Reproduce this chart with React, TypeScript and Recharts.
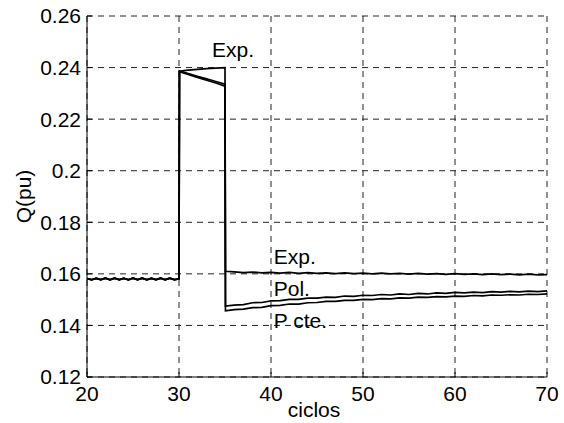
import { LineChart, Line, XAxis, YAxis, CartesianGrid, ReferenceDot } from "recharts";

// ciclos (x) shared by the three load models
const ciclos = [
  20, 20.5, 21, 21.5, 22, 22.5, 23, 23.5, 24, 24.5, 25, 25.5, 26, 26.5, 27, 27.5, 28, 28.5, 29, 29.5, 30,
  30.05, 31, 32, 33, 34, 35,
  35.05, 36, 37, 38, 39, 40, 41, 42, 43, 44, 45, 46, 47, 48, 49, 50, 51, 52, 53, 54, 55,
  56, 57, 58, 59, 60, 61, 62, 63, 64, 65, 66, 67, 68, 69, 70,
];

const qExp = [
  0.1582, 0.1577, 0.1583, 0.1578, 0.1584, 0.1577, 0.1582, 0.1578, 0.1583, 0.1577, 0.1584, 0.1578, 0.1582, 0.1577, 0.1583, 0.1578, 0.1584, 0.1577, 0.1582, 0.1578, 0.1581,
  0.2386, 0.239, 0.2393, 0.2396, 0.2398, 0.24,
  0.161, 0.1608, 0.1605, 0.1607, 0.1604, 0.1606, 0.1603, 0.1606, 0.1602, 0.1605, 0.1602, 0.1604, 0.1601, 0.1604, 0.1601, 0.1603, 0.16, 0.1603, 0.16, 0.1602, 0.1599,
  0.1602, 0.1599, 0.1601, 0.1598, 0.1601, 0.1598, 0.16, 0.1597, 0.16, 0.1597, 0.1599, 0.1596, 0.1599, 0.1596, 0.1597,
];

const qPol = [
  0.1581, 0.1578, 0.1582, 0.1577, 0.1583, 0.1578, 0.1583, 0.1577, 0.1582, 0.1578, 0.1583, 0.1577, 0.1583, 0.1578, 0.1582, 0.1577, 0.1583, 0.1578, 0.1583, 0.1577, 0.1581,
  0.2387, 0.2377, 0.2366, 0.2356, 0.2346, 0.2336,
  0.1475, 0.1479, 0.1481, 0.1488, 0.1489, 0.1495, 0.1496, 0.1501, 0.1501, 0.1506, 0.1506, 0.151, 0.1509, 0.1514, 0.1513, 0.1517, 0.1516, 0.152, 0.1518, 0.1522, 0.152,
  0.1524, 0.1522, 0.1526, 0.1524, 0.1528, 0.1526, 0.1529, 0.1527, 0.1531, 0.1529, 0.1532, 0.153, 0.1533, 0.1531, 0.1534,
];

const qPcte = [
  0.1583, 0.1577, 0.1582, 0.1578, 0.1582, 0.1577, 0.1584, 0.1578, 0.1582, 0.1577, 0.1582, 0.1578, 0.1584, 0.1577, 0.1582, 0.1578, 0.1582, 0.1577, 0.1584, 0.1578, 0.1581,
  0.2384, 0.2373, 0.2362, 0.2351, 0.234, 0.2328,
  0.1457, 0.1461, 0.1463, 0.1469, 0.147, 0.1477, 0.1478, 0.1483, 0.1483, 0.1488, 0.1489, 0.1493, 0.1493, 0.1497, 0.1497, 0.1501, 0.15, 0.1504, 0.1503, 0.1507, 0.1506,
  0.151, 0.1509, 0.1512, 0.1511, 0.1514, 0.1513, 0.1516, 0.1515, 0.1518, 0.1517, 0.1519, 0.1518, 0.1521, 0.152, 0.1522,
];

const xTicks = [20, 30, 40, 50, 60, 70];
const yTicks = [0.12, 0.14, 0.16, 0.18, 0.2, 0.22, 0.24, 0.26];

// annotations: [text, ciclo, Q]
const notes: [string, number, number][] = [
  ["Exp.", 33.6, 0.2468],
  ["Exp.", 40.3, 0.1666],
  ["Pol.", 40.3, 0.1543],
  ["P cte.", 40.3, 0.1419],
];

const data = ciclos.map((c, i) => ({ c, exp: qExp[i], pol: qPol[i], pcte: qPcte[i] }));

const FONT = "'Liberation Sans', Arial, sans-serif";

function NoteLabel({ viewBox, value }: any) {
  const x = viewBox.x + viewBox.width / 2;
  const y = viewBox.y + viewBox.height / 2;
  return (
    <text x={x} y={y} dy="0.35em" textAnchor="start" fontSize={21} fontFamily={FONT} fill="#000">
      {value}
    </text>
  );
}

export default function App() {
  return (
    <div style={{ position: "absolute", left: 0, top: 0, width: 564, height: 423, background: "#fff" }}>
      <LineChart width={564} height={423} data={data} margin={{ top: 16, right: 17, left: 0, bottom: 0 }}>
        <CartesianGrid stroke="#222" strokeDasharray="6 5" strokeWidth={1} />
        <XAxis
          dataKey="c"
          type="number"
          domain={[20, 70]}
          ticks={xTicks}
          height={46}
          tickLine={{ stroke: "#000" }}
          tickSize={-5}
          tickMargin={14}
          axisLine={{ stroke: "#000", strokeWidth: 1 }}
          tick={{ fontSize: 21, fill: "#000", fontFamily: FONT }}
          label={({ viewBox }: any) => (
            <text x={viewBox.x + viewBox.width / 2 - 3} y={417} textAnchor="middle" fontSize={21} fontFamily={FONT} fill="#000">
              ciclos
            </text>
          )}
        />
        <YAxis
          type="number"
          domain={[0.12, 0.26]}
          ticks={yTicks}
          width={87}
          tickLine={{ stroke: "#000" }}
          tickSize={-5}
          tickMargin={11}
          axisLine={{ stroke: "#000", strokeWidth: 1 }}
          tickFormatter={(v: number) => String(Number(v.toFixed(2)))}
          tick={{ fontSize: 21, fill: "#000", fontFamily: FONT }}
          label={({ viewBox }: any) => (
            <text
              x={24}
              y={viewBox.y + viewBox.height / 2}
              transform={`rotate(-90 24 ${viewBox.y + viewBox.height / 2})`}
              textAnchor="middle"
              dy="0.35em"
              fontSize={21}
              fontFamily={FONT}
              fill="#000"
            >
              Q(pu)
            </text>
          )}
        />
        <Line dataKey="exp" stroke="#000" strokeWidth={1.7} dot={false} isAnimationActive={false} />
        <Line dataKey="pol" stroke="#000" strokeWidth={1.7} dot={false} isAnimationActive={false} />
        <Line dataKey="pcte" stroke="#000" strokeWidth={1.7} dot={false} isAnimationActive={false} />
        {notes.map(([t, x, y], i) => (
          <ReferenceDot key={i} x={x} y={y} r={1} fill="none" stroke="none" label={<NoteLabel value={t} />} />
        ))}
      </LineChart>
    </div>
  );
}
